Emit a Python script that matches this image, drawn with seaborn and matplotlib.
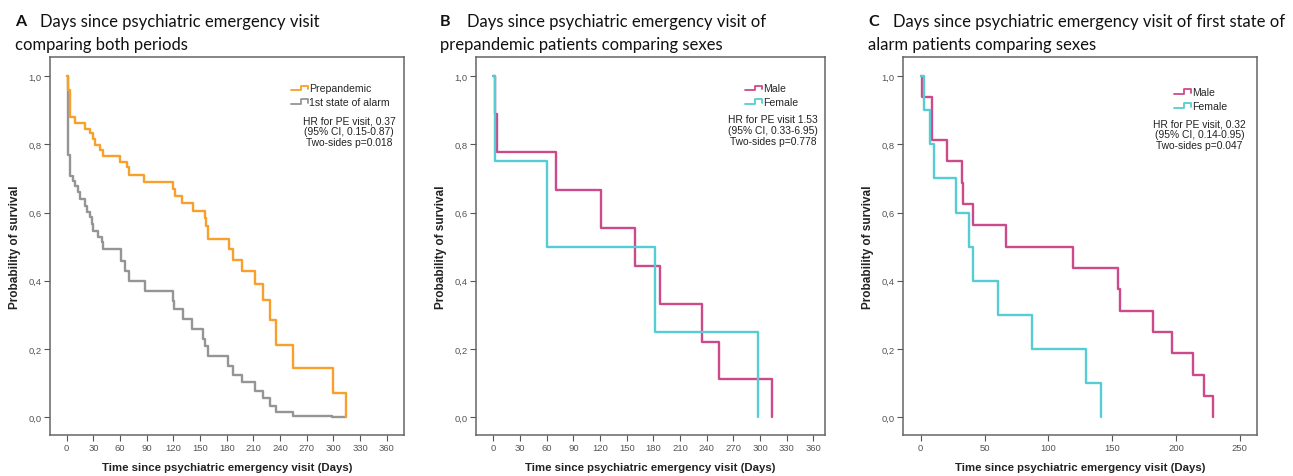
import numpy as np
import pandas as pd
import matplotlib
matplotlib.use("Agg")
import matplotlib.pyplot as plt
import seaborn as sns
from matplotlib.legend_handler import HandlerBase
from matplotlib.lines import Line2D
from matplotlib.ticker import FuncFormatter

# ---------------- data ----------------
pre_days = [0, 1, 3.7, 9.3, 20.6, 26.2, 30, 32, 37.5, 40.5, 60, 67.8, 70, 87, 119.6, 121.8,
            129.4, 142, 155.6, 157, 159.3, 182.5, 187.5, 196.8, 211.8, 221, 228.7, 235.4,
            254.2, 299.2, 314.2]
pre_surv = [1.0, 0.96, 0.88, 0.864, 0.845, 0.833, 0.815, 0.797, 0.784, 0.766, 0.749, 0.733,
            0.71, 0.69, 0.67, 0.649, 0.628, 0.605, 0.583, 0.561, 0.522, 0.493, 0.462, 0.428,
            0.39, 0.344, 0.286, 0.212, 0.144, 0.071, 0.0]

alarm_days = [0, 1, 3.7, 7.5, 9.3, 12.4, 15, 20.6, 22.5, 26.2, 28, 30, 35.6, 39.4, 41, 61.5,
              65.6, 70.4, 88, 120, 121, 131.3, 140.6, 153.7, 155.6, 159.3, 181.5, 187.5,
              196.8, 211.7, 220.5, 228.6, 235.4, 255, 298, 314]
alarm_surv = [1.0, 0.77, 0.708, 0.693, 0.677, 0.659, 0.64, 0.62, 0.602, 0.586, 0.566, 0.547,
              0.527, 0.513, 0.493, 0.459, 0.43, 0.40, 0.371, 0.342, 0.317, 0.288, 0.259, 0.23,
              0.21, 0.179, 0.151, 0.124, 0.103, 0.078, 0.056, 0.034, 0.015, 0.005, 0.0, 0.0]

b_male_days = [0, 2, 4, 70.5, 120.8, 159.4, 187.5, 234.4, 254, 313.9]
b_male_surv = [1.0, 0.889, 0.778, 0.667, 0.556, 0.444, 0.333, 0.222, 0.111, 0.0]
b_female_days = [0, 2, 60.7, 181.9, 297.4]
b_female_surv = [1.0, 0.75, 0.5, 0.25, 0.0]

c_male_days = [0, 1.3, 9.2, 20.7, 32.4, 33.2, 41, 66.7, 119, 154.9, 156.2, 182.3, 196.7,
               213.2, 222.1, 229.4]
c_male_surv = [1.0, 0.9375, 0.8125, 0.75, 0.6875, 0.625, 0.5625, 0.5, 0.4375, 0.375, 0.3125,
               0.25, 0.1875, 0.125, 0.0625, 0.0]
c_female_days = [0, 2.4, 7.6, 10.2, 28, 37.7, 40.6, 60.7, 86.9, 129.5, 141]
c_female_surv = [1.0, 0.9, 0.8, 0.7, 0.6, 0.5, 0.4, 0.3, 0.2, 0.1, 0.0]

titles = [("A", "Days since psychiatric emergency visit", "comparing both periods"),
          ("B", "Days since psychiatric emergency visit of", "prepandemic patients comparing sexes"),
          ("C", "Days since psychiatric emergency visit of first state of", "alarm patients comparing sexes")]
stats_text = ["HR for PE visit, 0.37\n(95% CI, 0.15-0.87)\nTwo-sides p=0.018",
              "HR for PE visit 1.53\n(95% CI, 0.33-6.95)\nTwo-sides p=0.778",
              "HR for PE visit, 0.32\n(95% CI, 0.14-0.95)\nTwo-sides p=0.047"]

ORANGE = "#F7A02C"
GRAY = "#959595"
MAGENTA = "#CC4A8A"
CYAN = "#55CDD2"

sns.set_style("white")
plt.rcParams["font.family"] = ["Liberation Sans", "DejaVu Sans"]

W, H = 1293, 477
fig = plt.figure(figsize=(W / 100, H / 100), dpi=100)


def px_axes(l, r, t, b):
    return fig.add_axes([l / W, (H - b) / H, (r - l) / W, (b - t) / H])


class StepHandler(HandlerBase):
    def create_artists(self, legend, orig_handle, xdescent, ydescent, width, height,
                       fontsize, trans):
        xs = np.array([0, 0.62, 0.62, 1.0, 1.0]) * width - xdescent
        ys = np.array([0.15, 0.15, 0.8, 0.8, 0.3]) * height - ydescent
        ln = Line2D(xs, ys, color=orig_handle.get_color(), lw=1.3)
        ln.set_transform(trans)
        return [ln]


def make_df(series):
    frames = []
    for name, d, s in series:
        frames.append(pd.DataFrame({"days": d, "surv": s, "group": name}))
    return pd.concat(frames, ignore_index=True)


panels = [
    dict(box=(50, 404, 58, 436), xlim=(-18.8, 379.4), xstep=30, xmax=360,
         series=[("1st state of alarm", alarm_days, alarm_surv),
                 ("Prepandemic", pre_days, pre_surv)],
         pal={"Prepandemic": ORANGE, "1st state of alarm": GRAY},
         leg=["Prepandemic", "1st state of alarm"], leg_xy=(0.68, 0.93),
         stat_xy=(0.845, 0.845)),
    dict(box=(476, 825, 58, 436), xlim=(-19.5, 373), xstep=30, xmax=360,
         series=[("Male", b_male_days, b_male_surv),
                 ("Female", b_female_days, b_female_surv)],
         pal={"Male": MAGENTA, "Female": CYAN},
         leg=["Male", "Female"], leg_xy=(0.77, 0.93), stat_xy=(0.851, 0.848)),
    dict(box=(903, 1257, 58, 436), xlim=(-13.9, 263.5), xstep=50, xmax=250,
         series=[("Male", c_male_days, c_male_surv),
                 ("Female", c_female_days, c_female_surv)],
         pal={"Male": MAGENTA, "Female": CYAN},
         leg=["Male", "Female"], leg_xy=(0.765, 0.92), stat_xy=(0.838, 0.837)),
]

comma_fmt = FuncFormatter(lambda v, p: f"{v:.1f}".replace(".", ","))
title_x = [(15, 40), (440, 467), (868, 893)]

for i, p in enumerate(panels):
    ax = px_axes(*p["box"])
    df = make_df(p["series"])
    sns.lineplot(data=df, x="days", y="surv", hue="group", palette=p["pal"],
                 estimator=None, sort=False, units="group", drawstyle="steps-post",
                 linewidth=1.7, legend=False, ax=ax)
    ax.set_xlim(*p["xlim"])
    ax.set_ylim(-0.052, 1.056)
    ax.set_xticks(np.arange(0, p["xmax"] + 1, p["xstep"]))
    ax.set_yticks(np.arange(0, 1.01, 0.2))
    ax.yaxis.set_major_formatter(comma_fmt)
    ax.tick_params(axis="both", which="major", direction="out", length=4, width=0.8,
                   color="#555555", labelsize=6.8, labelcolor="#555555", pad=2,
                   bottom=True, left=True)
    for sp in ax.spines.values():
        sp.set_color("#666666")
        sp.set_linewidth(1.1)
    ax.set_xlabel("Time since psychiatric emergency visit (Days)", fontsize=8.2,
                  fontweight="bold", color="#222222")
    ax.set_ylabel("Probability of survival", fontsize=8.5, fontweight="bold",
                  color="#222222")
    ax.yaxis.set_label_coords(-0.082, 0.5)
    ax.xaxis.set_label_coords(0.5, -0.072)

    handles = [Line2D([], [], color=p["pal"][n], lw=1.3) for n in p["leg"]]
    ax.legend(handles, p["leg"], loc="upper left", bbox_to_anchor=p["leg_xy"],
              frameon=False, fontsize=7.6, handlelength=1.6, handletextpad=0.15,
              labelspacing=0.35, borderpad=0, borderaxespad=0,
              handler_map={Line2D: StepHandler()})
    ax.text(p["stat_xy"][0], p["stat_xy"][1], stats_text[i], transform=ax.transAxes,
            ha="center", va="top", fontsize=7.4, color="#222222", linespacing=1.1)

    letter, l1, l2 = titles[i]
    lx, tx = title_x[i]
    fig.text(lx / W, 1 - 22 / H, letter, fontsize=11.5, fontweight="bold",
             family=["Lato", "DejaVu Sans"], va="center", ha="left", color="#111111")
    fig.text(tx / W, 1 - 22 / H, l1, fontsize=12.0, family=["Lato", "DejaVu Sans"],
             va="center", ha="left", color="#111111")
    fig.text(lx / W, 1 - 45 / H, l2, fontsize=12.0, family=["Lato", "DejaVu Sans"],
             va="center", ha="left", color="#111111")

fig.savefig("out.png", dpi=100)
